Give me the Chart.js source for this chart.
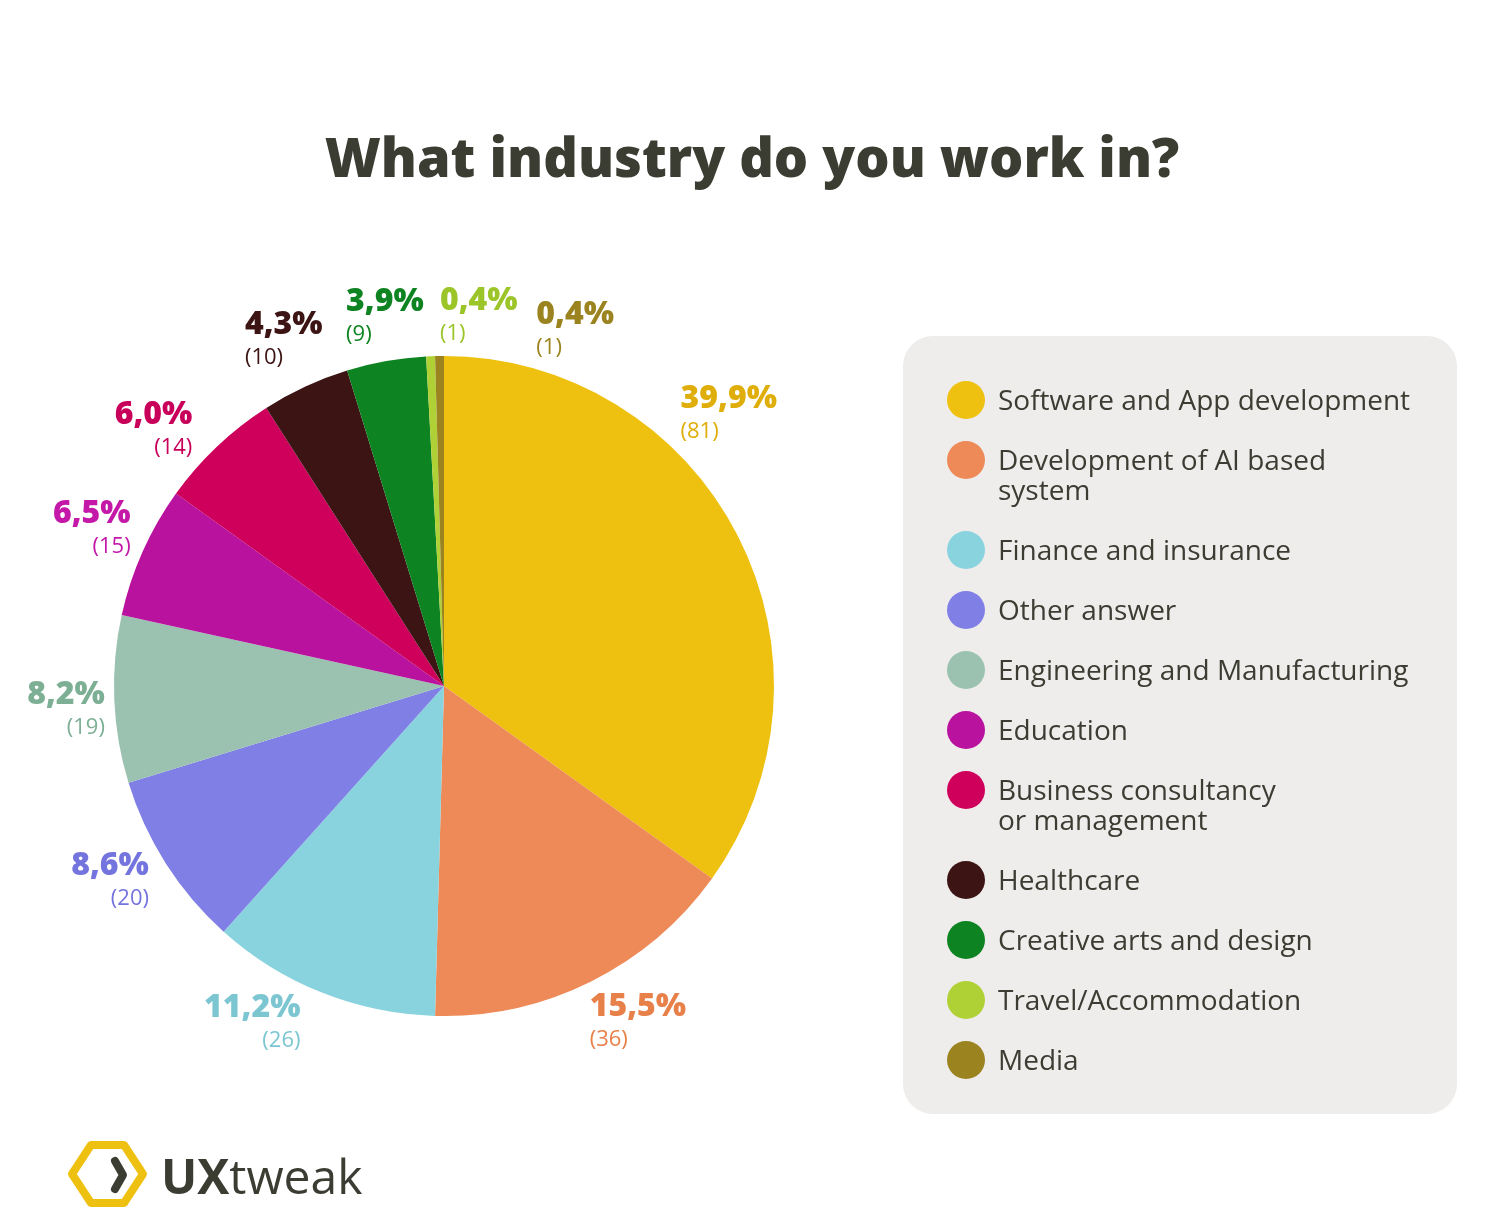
<!DOCTYPE html>
<html>
<head>
<meta charset="utf-8">
<title>What industry do you work in?</title>
<script src="https://cdn.jsdelivr.net/npm/chart.js@4.4.0/dist/chart.umd.js"></script>
<style>
  html, body { margin: 0; padding: 0; background: #fff; }
  #wrap { position: relative; width: 1500px; height: 1232px; }
</style>
</head>
<body>
<div id="wrap"><canvas id="industryChart"></canvas></div>
<script>
// Data
const categories = [
  'Software and App development',
  ['Development of AI based', 'system'],
  'Finance and insurance',
  'Other answer',
  'Engineering and Manufacturing',
  'Education',
  ['Business consultancy', 'or management'],
  'Healthcare',
  'Creative arts and design',
  'Travel/Accommodation',
  'Media'
]
const counts = [81, 36, 26, 20, 19, 15, 14, 10, 9, 1, 1]
const percentLabels = ['39,9%', '15,5%', '11,2%', '8,6%', '8,2%', '6,5%', '6,0%', '4,3%', '3,9%', '0,4%', '0,4%']

const sliceColors = ['#EEC110', '#ED8A57', '#89D3DE', '#7F7FE5', '#9BC2B0', '#B8129E', '#CE005C', '#3C1414', '#0E8321', '#B0D136', '#9B8420']
const labelColors = ['#E0AE0A', '#E8804A', '#7CC6D2', '#7474DE', '#7DAF95', '#C318A8', '#C8005A', '#3C1414', '#0E8321', '#9CC52A', '#9B8420']

const TEXT = '#3B3D33'
const FONT = '"Open Sans", "Noto Sans", sans-serif'

// small angular nudges (degrees) so the outer labels don't collide
const labelNudge = [-16.5, -3.6, 7.9, 2.3, -1.3, 0, -5.2, 0, 1, 7.7, 21]

const outerLabels = {
  id: 'outerLabels',
  afterDatasetsDraw(chart) {
    const ctx = chart.ctx
    const meta = chart.getDatasetMeta(0)
    ctx.save()
    meta.data.forEach((arc, i) => {
      const p = arc.getProps(['x', 'y', 'startAngle', 'endAngle', 'outerRadius'], true)
      const mid = (p.startAngle + p.endAngle) / 2 + labelNudge[i] * Math.PI / 180

      ctx.font = `800 32px ${FONT}`
      const w = ctx.measureText(percentLabels[i]).width
      // push the label block out so its nearest side keeps a small gap from the pie
      const ext = Math.abs(Math.cos(mid)) * w / 2 + Math.abs(Math.sin(mid)) * 30
      const d = p.outerRadius + 8 + ext
      const bx = p.x + Math.cos(mid) * d
      const by = p.y + Math.sin(mid) * d
      let clock = (mid * 180 / Math.PI + 90) % 360
      if (clock < 0) clock += 360
      const rightAlign = clock > 180 && clock < 320

      ctx.fillStyle = labelColors[i]
      ctx.textBaseline = 'alphabetic'
      ctx.textAlign = 'center'
      ctx.fillText(percentLabels[i], bx, by - 6)

      ctx.font = `400 22px ${FONT}`
      if (rightAlign) {
        ctx.textAlign = 'right'
        ctx.fillText(`(${counts[i]})`, bx + w / 2, by + 24)
      } else {
        ctx.textAlign = 'left'
        ctx.fillText(`(${counts[i]})`, bx - w / 2, by + 24)
      }
    })
    ctx.restore()
  }
}

const decorations = {
  id: 'decorations',
  afterDraw(chart) {
    const ctx = chart.ctx
    ctx.save()

    // Title
    ctx.fillStyle = TEXT
    ctx.font = `800 54px ${FONT}`
    ctx.textAlign = 'center'
    ctx.textBaseline = 'alphabetic'
    ctx.fillText('What industry do you work in?', 752, 177)

    // Legend box
    const bx = 903, by = 336, bw = 554, bh = 778
    ctx.fillStyle = '#EFEDEB'
    ctx.beginPath()
    ctx.roundRect(bx, by, bw, bh, 30)
    ctx.fill()

    const bg = chart.data.datasets[0].backgroundColor
    let y = 400
    chart.data.labels.forEach((label, i) => {
      const lines = Array.isArray(label) ? label : [label]
      ctx.fillStyle = bg[i]
      ctx.beginPath()
      ctx.ellipse(966, y, 19, 19, 0, 0, Math.PI * 2)
      ctx.fill()
      ctx.fillStyle = TEXT
      ctx.font = `400 28px ${FONT}`
      ctx.textAlign = 'left'
      ctx.textBaseline = 'middle'
      lines.forEach((ln, j) => ctx.fillText(ln, 998, y + 2 + j * 30))
      y += lines.length * 30 + 30
    })

    // Logo
    ctx.strokeStyle = '#EEC110'
    ctx.lineWidth = 8
    ctx.lineJoin = 'round'
    ctx.beginPath()
    ctx.moveTo(72, 1174)
    ctx.lineTo(91, 1145)
    ctx.lineTo(124, 1145)
    ctx.lineTo(143, 1174)
    ctx.lineTo(124, 1203)
    ctx.lineTo(91, 1203)
    ctx.closePath()
    ctx.stroke()

    ctx.strokeStyle = TEXT
    ctx.lineWidth = 8
    ctx.lineCap = 'round'
    ctx.beginPath()
    ctx.moveTo(115, 1161)
    ctx.lineTo(123, 1175)
    ctx.lineTo(115, 1189)
    ctx.stroke()

    ctx.fillStyle = TEXT
    ctx.textBaseline = 'alphabetic'
    ctx.textAlign = 'left'
    ctx.font = `700 48px ${FONT}`
    ctx.fillText('UX', 161, 1194)
    const ux = ctx.measureText('UX').width
    ctx.font = `400 48px ${FONT}`
    ctx.fillText('tweak', 161 + ux, 1194)

    ctx.restore()
  }
}

const ctx = document.getElementById('industryChart').getContext('2d')
new Chart(ctx, {
  type: 'pie',
  data: {
    labels: categories,
    datasets: [{
      data: counts,
      backgroundColor: sliceColors,
      borderWidth: 0
    }]
  },
  options: {
    responsive: true,
    maintainAspectRatio: false,
    animation: false,
    layout: {
      padding: { left: 114, right: 726, top: 356, bottom: 216 }
    },
    plugins: {
      legend: { display: false },
      tooltip: { enabled: false },
      title: { display: false }
    }
  },
  plugins: [outerLabels, decorations]
})
</script>
</body>
</html>
